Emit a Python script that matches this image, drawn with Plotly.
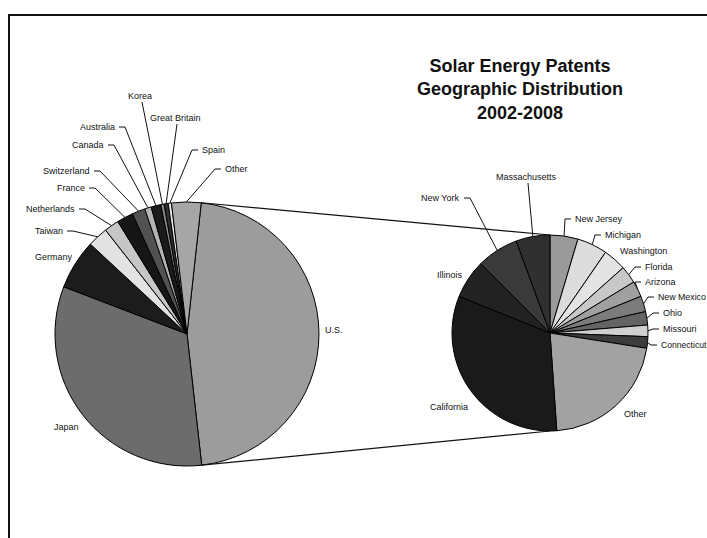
import math
import plotly.graph_objects as go

# ---------------- data ----------------
countries = ["U.S.", "Japan", "Germany", "Taiwan", "Netherlands", "France",
             "Switzerland", "Canada", "Australia", "Korea", "Great Britain",
             "Spain", "Other"]
country_share = [46.5, 32.6, 6.1, 2.5, 1.8, 2.0, 1.6, 0.8, 1.2, 0.4, 0.5, 0.4, 3.6]

states = ["New Jersey", "Michigan", "Washington", "Florida", "Arizona",
          "New Mexico", "Ohio", "Missouri", "Connecticut", "Other",
          "California", "Illinois", "New York", "Massachusetts"]
state_share = [4.6, 5.0, 3.8, 2.9, 2.6, 2.6, 2.2, 1.9, 1.9, 21.4, 32.2, 6.4, 6.9, 5.6]

title_lines = ["Solar Energy Patents", "Geographic Distribution", "2002-2008"]

# ---------------- styles ----------------
country_colors = ["#9c9c9c", "#6c6c6c", "#1c1c1c", "#e2e2e2", "#c6c6c6", "#161616",
                  "#525252", "#b4b4b4", "#1a1a1a", "#8a8a8a", "#2e2e2e", "#e6e6e6",
                  "#a6a6a6"]
state_colors = ["#9a9a9a", "#dcdcdc", "#e4e4e4", "#c8c8c8", "#a0a0a0", "#7c7c7c",
                "#646464", "#d0d0d0", "#3c3c3c", "#a2a2a2", "#1a1a1a", "#222222",
                "#3a3a3a", "#303030"]

W, H = 707, 538
L_CX, L_CY, L_R = 187, 334, 132
R_CX, R_CY, R_R = 550, 333, 98
L_ROT = 6.2
FONT = "Liberation Sans, Arial, sans-serif"

# label placement (pixels): (x, y, anchor, leader, size) ; leader: None / 'side' / 'down'
country_label_pos = [
    (323, 330, "left", None, 9), (52, 427, "left", None, 9), (33, 257, "left", None, 9),
    (65, 231, "right", "side", 9), (77, 209, "right", "side", 9), (87, 188, "right", "side", 9),
    (92, 171, "right", "side", 9), (106, 145, "right", "side", 9), (117, 127, "right", "side", 9),
    (140, 96, "center", "down", 9), (175, 118, "center", "down", 9),
    (200, 150, "left", "side", 9), (223, 169, "left", "side", 9),
]
state_label_pos = [
    (573, 219, "left", "side", 9), (603, 235, "left", "side", 9), (618, 251, "left", None, 9),
    (643, 267, "left", "side", 9), (643, 282, "left", "side", 9), (656, 297, "left", "side", 8.8),
    (661, 313, "left", "side", 9), (661, 329, "left", "side", 9), (659, 345, "left", "side", 8.6),
    (622, 414, "left", None, 9), (428, 407, "left", None, 9), (435, 275, "left", None, 9),
    (462, 198, "right", "side", 9), (526, 177, "center", "down", 9),
]


def pt(cx, cy, r, deg):
    a = math.radians(deg)
    return cx + r * math.sin(a), cy - r * math.cos(a)


def mid_angles(values, rot):
    tot = sum(values)
    out, cur = [], rot
    for v in values:
        span = 360.0 * v / tot
        out.append(cur + span / 2)
        cur += span
    return out


fig = go.Figure()


def dom(cx, cy, r):
    return dict(x=[(cx - r) / W, (cx + r) / W], y=[1 - (cy + r) / H, 1 - (cy - r) / H])


fig.add_trace(go.Pie(
    labels=countries, values=country_share, sort=False, direction="clockwise",
    rotation=L_ROT, textinfo="none", hoverinfo="label+percent",
    marker=dict(colors=country_colors, line=dict(color="#000000", width=1)),
    domain=dom(L_CX, L_CY, L_R), showlegend=False,
))
fig.add_trace(go.Pie(
    labels=states, values=state_share, sort=False, direction="clockwise",
    rotation=0, textinfo="none", hoverinfo="label+percent",
    marker=dict(colors=state_colors, line=dict(color="#000000", width=1)),
    domain=dom(R_CX, R_CY, R_R), showlegend=False,
))

shapes = []
annotations = []

# frame (right and bottom edges lie outside the visible window)
shapes.append(dict(type="rect", xref="x", yref="y", x0=9, y0=15, x1=715, y1=560,
                   line=dict(color="#111111", width=2), layer="below"))

# connector lines from the U.S. slice to the secondary pie
us_start = L_ROT
us_end = L_ROT + 360.0 * country_share[0] / sum(country_share)
p1 = pt(L_CX, L_CY, L_R, us_start)
p2 = pt(L_CX, L_CY, L_R, us_end)
for (px, py), ty in ((p1, R_CY - R_R), (p2, R_CY + R_R)):
    shapes.append(dict(type="line", xref="x", yref="y", x0=px, y0=py, x1=R_CX, y1=ty,
                       line=dict(color="#111111", width=1.2)))


def add_labels(names, values, rot, cx, cy, r, pos):
    mids = mid_angles(values, rot)
    for name, m, (tx, ty, anc, leader, size) in zip(names, mids, pos):
        annotations.append(dict(x=tx, y=ty, xref="x", yref="y", text=name,
                                showarrow=False, xanchor=anc, yanchor="middle",
                                font=dict(family=FONT, size=size, color="#111111")))
        if leader is None:
            continue
        px, py = pt(cx, cy, r, m)
        if leader == "down":
            path = f"M {tx + 2},{ty + 6} L {px},{py}"
        elif anc == "right":
            path = f"M {tx + 2},{ty} L {tx + 8},{ty} L {px},{py}"
        else:
            path = f"M {tx - 2},{ty} L {tx - 8},{ty} L {px},{py}"
        shapes.append(dict(type="path", xref="x", yref="y", path=path,
                           line=dict(color="#111111", width=1)))


add_labels(countries, country_share, L_ROT, L_CX, L_CY, L_R, country_label_pos)
add_labels(states, state_share, 0, R_CX, R_CY, R_R, state_label_pos)

annotations.append(dict(x=520, y=89, xref="x", yref="y",
                        text="<br>".join(f"<b>{t}</b>" for t in title_lines),
                        showarrow=False, xanchor="center", yanchor="middle", align="center",
                        font=dict(family=FONT, size=18, color="#111111")))

fig.update_layout(
    width=W, height=H, margin=dict(l=0, r=0, t=0, b=0),
    paper_bgcolor="white", plot_bgcolor="rgba(0,0,0,0)",
    xaxis=dict(range=[0, W], visible=False, domain=[0, 1], fixedrange=True),
    yaxis=dict(range=[H, 0], visible=False, domain=[0, 1], fixedrange=True),
    shapes=shapes, annotations=annotations, showlegend=False,
)

fig.write_html("out.html", config={"displayModeBar": False},
               post_script="document.body.style.margin='0';document.body.style.overflow='hidden';")
